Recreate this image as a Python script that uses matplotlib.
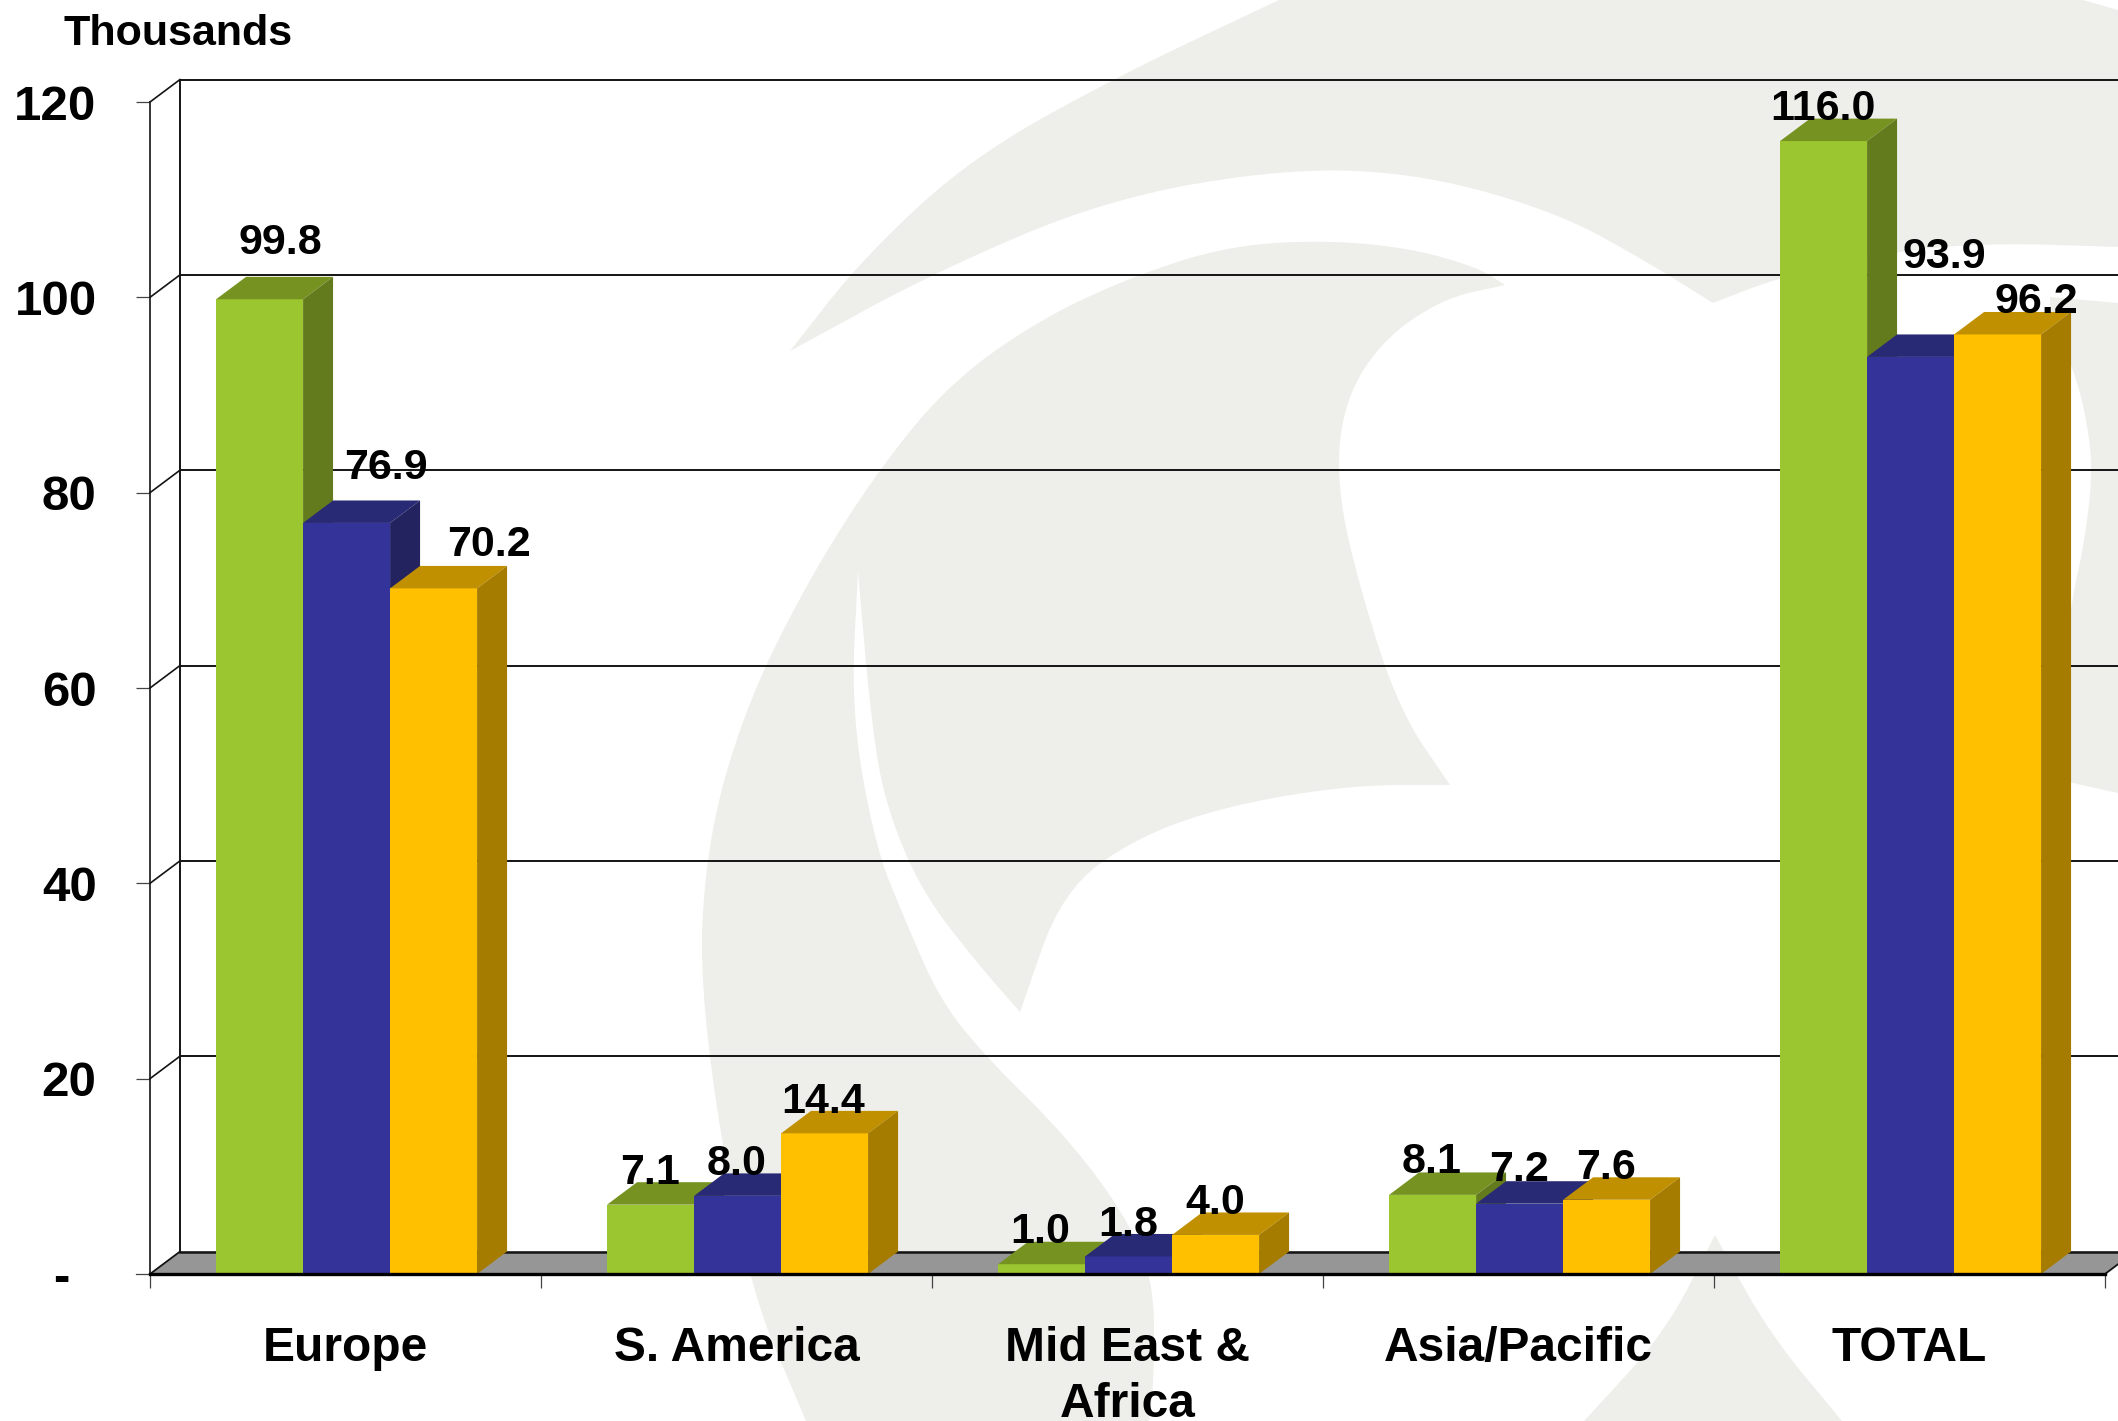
import numpy as np
import matplotlib
matplotlib.use('Agg')
import matplotlib.pyplot as plt
from matplotlib.patches import Polygon

plt.rcParams['font.family'] = ['Liberation Sans', 'DejaVu Sans']
plt.rcParams['font.weight'] = 'bold'

categories = ['Europe', 'S. America', 'Mid East &\nAfrica', 'Asia/Pacific', 'TOTAL']
series_green = [99.8, 7.1, 1.0, 8.1, 116.0]
series_blue = [76.9, 8.0, 1.8, 7.2, 93.9]
series_yellow = [70.2, 14.4, 4.0, 7.6, 96.2]
y_ticks = [20, 40, 60, 80, 100, 120]

# label nudges in pixels, placed by hand in the original
off_green = [(21, 61), (-1, 36), (-1, 37), (-1, 37), (-1, 37)]
off_blue = [(39, 59), (-1, 36), (0, 36), (-1, 38), (34, 104)]
off_yellow = [(55, 48), (-1, 36), (0, 36), (-1, 36), (39, 37)]

FIG_W, FIG_H = 2118, 1421
WATERMARK = '#EEEFEA'
LINE = '#141414'

# (front, top, side)
green_cols = ('#9CC62F', '#769322', '#647B1D')
blue_cols = ('#333399', '#292A75', '#22235F')
yellow_cols = ('#FFC000', '#C09000', '#A67C00')

depth_x = 0.0767
depth_y = 2.3
bar_w = 0.2225
pad = 0.169


def smooth(pts, n=3):
    # chaikin corner cutting, end points stay where they are
    pts = np.array(pts, dtype=float)
    for k in range(n):
        q = 0.75 * pts[:-1] + 0.25 * pts[1:]
        r = 0.25 * pts[:-1] + 0.75 * pts[1:]
        mid = np.empty((q.shape[0] * 2, 2))
        mid[0::2] = q
        mid[1::2] = r
        pts = np.vstack([pts[0], mid, pts[-1]])
    return pts


def drawWatermark(fig):
    bg = fig.add_axes([0, 0, 1, 1], zorder=0)
    bg.set_xlim(0, FIG_W)
    bg.set_ylim(FIG_H, 0)
    bg.axis('off')

    # outer wing
    wing = [smooth([(790, 351), (863, 258), (971, 158), (1116, 77), (1279, 0)]),
            [(2083, 0), (2118, 10), (2118, 247)],
            smooth([(2118, 247), (2000, 243), (1900, 250), (1780, 277), (1713, 303)]),
            smooth([(1713, 303), (1649, 263), (1559, 213), (1423, 174), (1288, 168),
                    (1107, 199), (935, 272), (790, 351)])]
    # body, with the white sliver cut in from below
    body = [smooth([(1505, 285), (1477, 267), (1405, 247), (1315, 240), (1224, 247),
                    (1134, 276), (1044, 317), (953, 380), (881, 466), (808, 580),
                    (744, 710), (706, 846), (699, 1000), (745, 1277), (806, 1421)]),
            smooth([(1149, 1421), (1154, 1380), (1154, 1277), (1120, 1207), (1063, 1133),
                    (986, 1057), (940, 1000), (905, 920), (875, 846), (851, 710), (858, 571)]),
            smooth([(858, 571), (870, 710), (884, 801), (921, 891), (978, 964), (1020, 1012)]),
            smooth([(1020, 1012), (1062, 891), (1137, 837), (1230, 805), (1352, 785), (1450, 785)]),
            smooth([(1450, 785), (1399, 710), (1360, 589), (1337, 489), (1342, 408),
                    (1378, 344), (1441, 299), (1505, 285)])]
    # piece at the right edge
    right = [[(2050, 297), (2118, 303), (2118, 793), (2050, 778)],
             smooth([(2050, 778), (2070, 608), (2085, 540), (2093, 468), (2085, 410),
                     (2070, 359), (2050, 330)])]
    # peak at the bottom
    peak = [smooth([(1584, 1421), (1665, 1333), (1715, 1235)]),
            smooth([(1715, 1235), (1769, 1333), (1842, 1421)])]

    for parts in [wing, body, right, peak]:
        bg.add_patch(Polygon(np.vstack(parts), closed=True, fc=WATERMARK, ec='none'))


def drawBar(ax, x, val, cols, order):
    front, top, side = cols
    ax.bar(x, val, bar_w, align='edge', color=front, lw=0, zorder=order)
    ax.add_patch(Polygon([(x, val), (x + bar_w, val), (x + bar_w + depth_x, val + depth_y),
                          (x + depth_x, val + depth_y)], fc=top, ec='none',
                         zorder=order, clip_on=False))
    ax.add_patch(Polygon([(x + bar_w, 0), (x + bar_w + depth_x, depth_y),
                          (x + bar_w + depth_x, val + depth_y), (x + bar_w, val)],
                         fc=side, ec='none', zorder=order, clip_on=False))


fig = plt.figure(figsize=(FIG_W / 100, FIG_H / 100), dpi=100, facecolor='white')
drawWatermark(fig)

ax = fig.add_axes([150 / FIG_W, 1 - 1274 / FIG_H, (2105 - 150) / FIG_W, (1274 - 102) / FIG_H],
                  zorder=1)
ax.patch.set_visible(False)
ax.set_xlim(0, 5)
ax.set_ylim(0, 120)

# floor
ax.add_patch(Polygon([(0, 0), (5, 0), (5 + depth_x, depth_y), (depth_x, depth_y)],
                     fc='#969696', ec='none', zorder=1, clip_on=False))
ax.plot([depth_x, 5 + depth_x], [depth_y, depth_y], color=LINE, lw=1.8, zorder=1.5, clip_on=False)

# back wall and side wall lines
ax.plot([depth_x, depth_x], [depth_y, 120 + depth_y], color=LINE, lw=1.4, zorder=1.5, clip_on=False)
ax.plot([0, depth_x], [0, depth_y], color=LINE, lw=1.3, zorder=1.5, clip_on=False)
ax.plot([5, 5 + depth_x], [0, depth_y], color=LINE, lw=1.3, zorder=1.5, clip_on=False)
for v in y_ticks:
    ax.plot([depth_x, 5 + depth_x], [v + depth_y, v + depth_y], color=LINE, lw=1.4,
            zorder=1.5, clip_on=False)
    ax.plot([0, depth_x], [v, v + depth_y], color=LINE, lw=1.2, zorder=1.5, clip_on=False)

# bars, left to right so later ones cover the side of earlier ones
order = 2
all_series = [(series_green, green_cols, off_green),
              (series_blue, blue_cols, off_blue),
              (series_yellow, yellow_cols, off_yellow)]
for i in range(len(categories)):
    for j, (vals, cols, offs) in enumerate(all_series):
        x = i + pad + j * bar_w
        drawBar(ax, x, vals[i], cols, order)
        order += 0.1
        ax.annotate('%.1f' % vals[i], xy=(x + bar_w / 2, vals[i]), xytext=offs[i],
                    textcoords='offset pixels', ha='center', va='center_baseline',
                    fontsize=31, fontweight='bold', color='black', zorder=10,
                    annotation_clip=False)

for s in ['top', 'right']:
    ax.spines[s].set_visible(False)
ax.spines['left'].set_linewidth(1.2)
ax.spines['left'].set_color(LINE)
ax.spines['bottom'].set_linewidth(2.4)
ax.spines['bottom'].set_color('black')
ax.spines['bottom'].set_zorder(8)

ax.set_yticks(y_ticks)
ax.set_yticklabels([str(v) for v in y_ticks], fontsize=35.5, fontweight='bold')
ax.tick_params(axis='y', length=10, width=0.9, color='#444444', pad=28.5)
ax.annotate('-', xy=(0, 0), xytext=(-89, 0), textcoords='offset pixels', ha='center',
            va='center_baseline', fontsize=35.5, fontweight='bold', annotation_clip=False)
ax.plot([-14 / 391, 0], [0, 0], color='#444444', lw=0.9, clip_on=False, zorder=1.5)

ax.set_xticks(np.arange(6))
ax.set_xticklabels([])
ax.tick_params(axis='x', which='major', length=10, width=0.9, color='#444444')
ax.set_xticks(np.arange(5) + 0.5, minor=True)
ax.set_xticklabels(categories, minor=True, fontsize=34.5, fontweight='bold')
ax.tick_params(axis='x', which='minor', length=0, pad=37.5)
for lab in ax.get_xticklabels(minor=True):
    lab.set_linespacing(1.3)

fig.text(64 / FIG_W, 1 - 45 / FIG_H, 'Thousands', fontsize=31, fontweight='bold',
         ha='left', va='baseline')

fig.savefig('out.png', dpi=100)
